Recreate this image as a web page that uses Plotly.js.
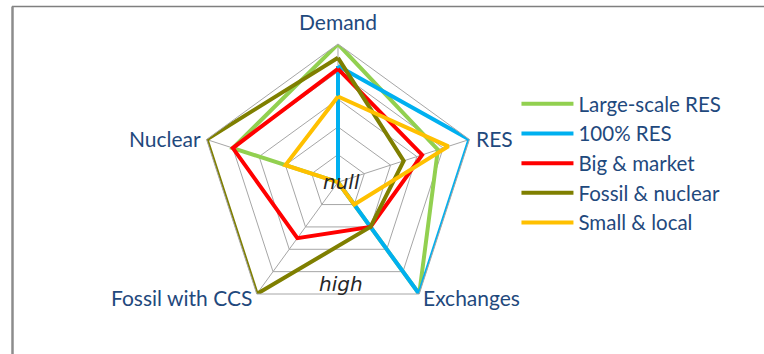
<!DOCTYPE html>
<html>
<head>
<meta charset="utf-8">
<script src="https://cdn.plot.ly/plotly-3.0.1.min.js"></script>
<style>
  html, body { margin: 0; padding: 0; background: #fff; }
  #chart { width: 764px; height: 354px; }
</style>
</head>
<body>
<div id="chart"></div>
<script>
// Scenario profiles on five dimensions (0 = null, 5 = high)
const dimensions = ['Demand', 'RES', 'Exchanges', 'Fossil with CCS', 'Nuclear'];
const scenarioNames = ['Large-scale RES', '100% RES', 'Big & market', 'Fossil & nuclear', 'Small & local'];
const largeScaleRES  = [5.0, 3.8, 5.0, 0.0, 4.0];
const fullRES        = [4.2, 5.0, 5.0, 0.0, 0.0];
const bigMarket      = [4.1, 3.2, 2.0, 2.5, 4.0];
const fossilNuclear  = [4.5, 2.5, 2.0, 5.0, 5.0];
const smallLocal     = [3.1, 4.2, 1.0, 0.0, 2.0];
const scaleLabels    = ['null', 'high'];

const seriesValues = [largeScaleRES, fullRES, bigMarket, fossilNuclear, smallLocal];
const seriesColors = ['#92D050', '#00B0F0', '#FF0000', '#7F7F00', '#FFC000'];

const textBlue = '#1F497D';
const gridGrey = '#A6A6A6';
const labelFont = 'Lato, "Open Sans", "Liberation Sans", sans-serif';
const scaleFont = '"DejaVu Sans", sans-serif';

const W = 764, H = 354;
const px = x => x / W;          // pixel -> paper x
const py = y => 1 - y / H;      // pixel -> paper y

// close each polygon by repeating the first point
const traces = seriesValues.map((vals, i) => ({
  type: 'scatterpolar',
  mode: 'lines',
  name: scenarioNames[i],
  legendgroup: 'g' + i,
  r: vals.concat([vals[0]]),
  theta: dimensions.concat([dimensions[0]]),
  line: { color: seriesColors[i], width: 4 },
  hoverinfo: 'skip'
}));

// dimension names placed around the pentagon corners
const cornerLabels = [
  { x: 338, y: 22,  xanchor: 'center' },
  { x: 474, y: 138, xanchor: 'left' },
  { x: 421, y: 297, xanchor: 'left' },
  { x: 254, y: 297, xanchor: 'right' },
  { x: 203, y: 138, xanchor: 'right' }
].map((p, i) => ({
  text: dimensions[i], xref: 'paper', yref: 'paper',
  x: px(p.x), y: py(p.y), xanchor: p.xanchor, yanchor: 'middle',
  showarrow: false, font: { family: labelFont, size: 21, color: textBlue }
}));

const scaleNotes = [
  { x: 341, y: 182 },
  { x: 341, y: 284 }
].map((p, i) => ({
  text: '<i>' + scaleLabels[i] + '</i>', xref: 'paper', yref: 'paper',
  x: px(p.x), y: py(p.y), xanchor: 'center', yanchor: 'middle',
  showarrow: false, font: { family: scaleFont, size: 20, color: '#262626' }
}));

const layout = {
  width: W,
  height: H,
  margin: { l: 0, r: 0, t: 0, b: 0 },
  paper_bgcolor: '#ffffff',
  plot_bgcolor: '#ffffff',
  font: { family: labelFont, size: 21, color: textBlue },
  showlegend: true,
  legend: {
    x: 0.676, y: py(84), xanchor: 'left', yanchor: 'top',
    font: { family: labelFont, size: 20.5, color: textBlue },
    tracegroupgap: 0,
    itemwidth: 52,
    bgcolor: 'rgba(0,0,0,0)'
  },
  polar: {
    domain: { x: [0.2615, 0.6233], y: [0.0949, 0.8757] },
    gridshape: 'linear',
    bgcolor: '#ffffff',
    radialaxis: {
      range: [0, 5],
      dtick: 1,
      showticklabels: false,
      ticks: '',
      showline: false,
      gridcolor: gridGrey,
      gridwidth: 1
    },
    angularaxis: {
      type: 'category',
      categoryarray: dimensions,
      rotation: 90,
      direction: 'clockwise',
      ticks: '',
      showticklabels: false,
      showline: true,
      linecolor: gridGrey,
      linewidth: 1,
      gridcolor: gridGrey
    }
  },
  annotations: cornerLabels.concat(scaleNotes),
  shapes: [
    // frame edges along the top and left
    { type: 'line', xref: 'paper', yref: 'paper', x0: px(12), x1: 1, y0: py(6.5), y1: py(6.5),
      line: { color: '#7F7F7F', width: 1.5 } },
    { type: 'line', xref: 'paper', yref: 'paper', x0: px(12.5), x1: px(12.5), y0: 0, y1: py(6.5),
      line: { color: '#8C8C8C', width: 2.5 } }
  ]
};

Plotly.newPlot('chart', traces, layout, { staticPlot: true, displayModeBar: false });
</script>
</body>
</html>
